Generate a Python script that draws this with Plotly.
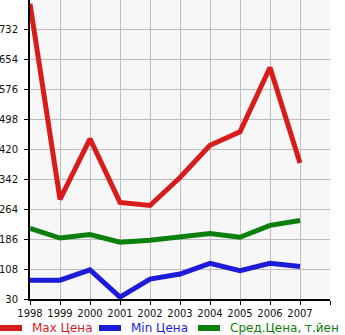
import plotly.graph_objects as go

years = [1998, 1999, 2000, 2001, 2002, 2003, 2004, 2005, 2006, 2007]
max_price = [800, 290, 448, 282, 274, 347, 431, 466, 634, 385]
min_price = [79, 79, 106, 35, 82, 95, 123, 104, 123, 115]
avg_price = [214, 189, 198, 178, 183, 191, 201, 191, 222, 235]

y_ticks = [30, 108, 186, 264, 342, 420, 498, 576, 654, 732]
x_ticks = years + [2008]
x_labels = [str(y) for y in years] + [""]

series = [
    ("Max Цена", max_price, "#d81c1c"),
    ("Min Цена", min_price, "#1c1cd8"),
    ("Сред.Цена, т.йен", avg_price, "#0c800c"),
]

fig = go.Figure()
for name, vals, color in series:
    fig.add_trace(go.Scatter(x=years, y=vals, mode="lines", name=name,
                             line=dict(color=color, width=5), showlegend=False))

font = "DejaVu Sans"
fig.update_layout(
    width=345, height=335,
    margin=dict(l=30, r=15, t=0, b=36),
    paper_bgcolor="white", plot_bgcolor="#f7f7f7",
    font=dict(family=font, size=10, color="#111"),
    xaxis=dict(range=[1998, 2008], tickvals=x_ticks, ticktext=x_labels,
               showgrid=True, gridcolor="#bdbdbd", gridwidth=1,
               showline=True, linecolor="black", linewidth=2,
               ticks="outside", ticklen=4, tickcolor="black", zeroline=False),
    yaxis=dict(range=[30, 810], tickvals=y_ticks,
               showgrid=True, gridcolor="#bdbdbd", gridwidth=1,
               showline=True, linecolor="black", linewidth=2,
               ticks="outside", ticklen=4, tickcolor="black", zeroline=False,
               ticklabelstandoff=4),
)

# Legend row drawn below the axes
legend_x = [0, 99, 198]
plot_left, plot_w, plot_h = 30, 300, 299
ly = (299 - 328) / plot_h
for (name, vals, color), px in zip(series, legend_x):
    x0 = (px - plot_left) / plot_w
    x1 = (px + 22 - plot_left) / plot_w
    fig.add_shape(type="line", xref="paper", yref="paper", x0=x0, x1=x1,
                  y0=ly, y1=ly, line=dict(color=color, width=6))
    fig.add_annotation(xref="paper", yref="paper", x=(px + 30 - plot_left) / plot_w,
                       y=ly, text=name, showarrow=False, xanchor="left",
                       yanchor="middle", font=dict(family=font, size=12, color=color))

fig.write_html("out.html")
